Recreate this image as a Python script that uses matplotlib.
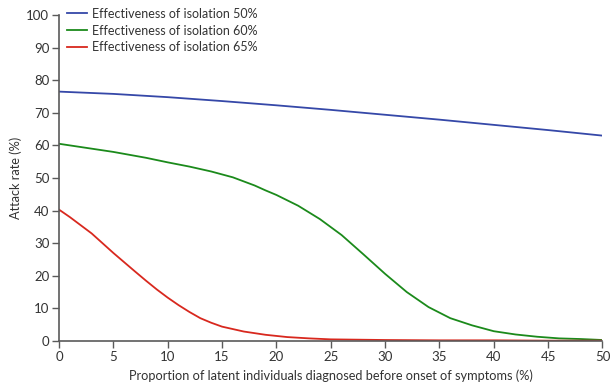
import matplotlib
matplotlib.use("Agg")
import matplotlib.pyplot as plt

plt.rcParams['font.family'] = ['Lato', 'DejaVu Sans']

# Proportion of latent individuals diagnosed before onset of symptoms (%)
x_blue = [0, 5, 10, 15, 20, 25, 30, 35, 40, 45, 50]
iso50 = [76.5, 75.8, 74.8, 73.6, 72.3, 70.9, 69.4, 67.9, 66.3, 64.7, 63.0]

x_green = [0, 3, 5, 8, 10, 12, 14, 16, 18, 19, 20, 22, 24, 26, 28, 30, 32, 34, 36, 38, 40, 42, 44, 46, 48, 50]
iso60 = [60.5, 59.0, 58.0, 56.2, 54.8, 53.5, 52.0, 50.2, 47.7, 46.2, 44.8, 41.5, 37.4, 32.5, 26.6, 20.6, 15.0, 10.4, 7.0, 4.8, 3.0, 2.0, 1.3, 0.8, 0.6, 0.3]

x_red = [0, 1, 3, 5, 7, 8, 9, 10, 11, 12, 13, 14, 15, 17, 19, 21, 23, 25, 30, 35, 40, 45, 50]
iso65 = [40.3, 38.0, 33.0, 27.0, 21.3, 18.5, 15.8, 13.3, 11.0, 8.9, 7.0, 5.6, 4.4, 2.9, 1.9, 1.2, 0.8, 0.5, 0.3, 0.2, 0.2, 0.1, 0.1]

labels = ["Effectiveness of isolation 50%",
          "Effectiveness of isolation 60%",
          "Effectiveness of isolation 65%"]
colors = ["#3548a8", "#1b8a1b", "#d8281e"]

fig = plt.figure(figsize=(6.11, 3.83), dpi=100)
ax = fig.add_axes([0.0966, 0.1097, 0.8894, 0.8511])

ax.plot(x_blue, iso50, color=colors[0], lw=1.3, label=labels[0])
ax.plot(x_green, iso60, color=colors[1], lw=1.3, label=labels[1])
ax.plot(x_red, iso65, color=colors[2], lw=1.3, label=labels[2])

ax.set_xlim(0, 50)
ax.set_ylim(0, 100)
ax.set_xticks(range(0, 51, 5))
ax.set_yticks(range(0, 101, 10))

axis_col = "#5a5a5a"
for side in ("top", "right"):
    ax.spines[side].set_visible(False)
for side in ("left", "bottom"):
    ax.spines[side].set_color(axis_col)
    ax.spines[side].set_linewidth(1.2)
ax.tick_params(axis="both", colors=axis_col, labelcolor="#333333",
               length=5, width=1, labelsize=9.5, direction="out", pad=2)

ax.set_xlabel("Proportion of latent individuals diagnosed before onset of symptoms (%)",
              fontsize=9.2, color="#333333", labelpad=5)
ax.set_ylabel("Attack rate (%)", fontsize=9.2, color="#333333", labelpad=3)

leg = ax.legend(loc="upper left", frameon=False, fontsize=9,
                bbox_to_anchor=(0.015, 1.022), handlelength=1.6,
                handletextpad=0.4, labelspacing=0.38,
                borderaxespad=0.0, borderpad=0.0)
for t in leg.get_texts():
    t.set_color("#333333")

fig.savefig("out.png", dpi=100)
